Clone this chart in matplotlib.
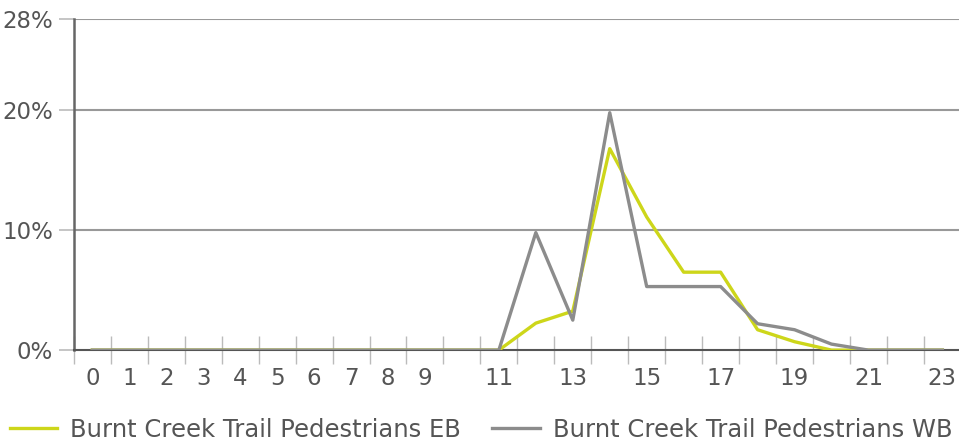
import numpy as np
import matplotlib
matplotlib.use("Agg")
from matplotlib import pyplot as plt

hours = list(range(24))
eb = [0, 0, 0, 0, 0, 0, 0, 0, 0, 0, 0, 0, 2.25, 3.25, 16.8, 11.1, 6.5, 6.5, 1.7, 0.7, 0, 0, 0, 0]
wb = [0, 0, 0, 0, 0, 0, 0, 0, 0, 0, 0, 0, 9.8, 2.5, 19.8, 5.3, 5.3, 5.3, 2.2, 1.7, 0.5, 0, 0, 0]
xlabels = ["0", "1", "2", "3", "4", "5", "6", "7", "8", "9", "11", "13", "15", "17", "19", "21", "23"]
xlabel_pos = [0, 1, 2, 3, 4, 5, 6, 7, 8, 9, 11, 13, 15, 17, 19, 21, 23]
yticks = [0, 10, 20, 27.6]
ylabels = ["0%", "10%", "20%", "28%"]
names = ["Burnt Creek Trail Pedestrians EB", "Burnt Creek Trail Pedestrians WB"]

yellow = "#cdd61a"
grey = "#8c8c8c"
txt = "#555555"

plt.rcParams["font.family"] = ["DejaVu Sans"]
fig = plt.figure(figsize=(9.59, 4.46), dpi=100)
ax = fig.add_axes([0.077, 0.215, 0.923, 0.742])

l1, = ax.plot(hours, eb, color=yellow, lw=2.4, zorder=3)
l2, = ax.plot(hours, wb, color=grey, lw=2.4, zorder=4)

ax.set_xlim(-0.5, 23.45)
ax.set_ylim(0, 27.6)

ax.set_yticks(yticks)
ax.set_yticklabels(ylabels)
ax.set_xticks(xlabel_pos)
ax.set_xticklabels(xlabels)
ax.set_xticks(np.arange(-0.5, 23.5, 1), minor=True)

ax.tick_params(axis="x", which="major", length=0, pad=12, labelsize=16.5, labelcolor=txt)
ax.tick_params(axis="x", which="minor", direction="inout", length=20, width=1, color="#bbbbbb")
ax.tick_params(axis="y", which="major", length=11, width=1.2, color="#bbbbbb", pad=4,
               labelsize=16.5, labelcolor=txt)

for y in yticks[1:]:
    ax.axhline(y, color="#999999", lw=1.5, zorder=1)

for s in ["top", "right"]:
    ax.spines[s].set_visible(False)
ax.spines["left"].set_color("#666666")
ax.spines["left"].set_linewidth(1.8)
ax.spines["bottom"].set_color("#555555")
ax.spines["bottom"].set_linewidth(1.5)

fig.legend([l1, l2], names, loc="lower left", bbox_to_anchor=(0.0, -0.012), ncol=2,
           frameon=False, fontsize=17.5, labelcolor=txt, handlelength=1.95,
           handletextpad=0.53, columnspacing=1.3, borderaxespad=0.0)

fig.savefig("out.png", dpi=100)
